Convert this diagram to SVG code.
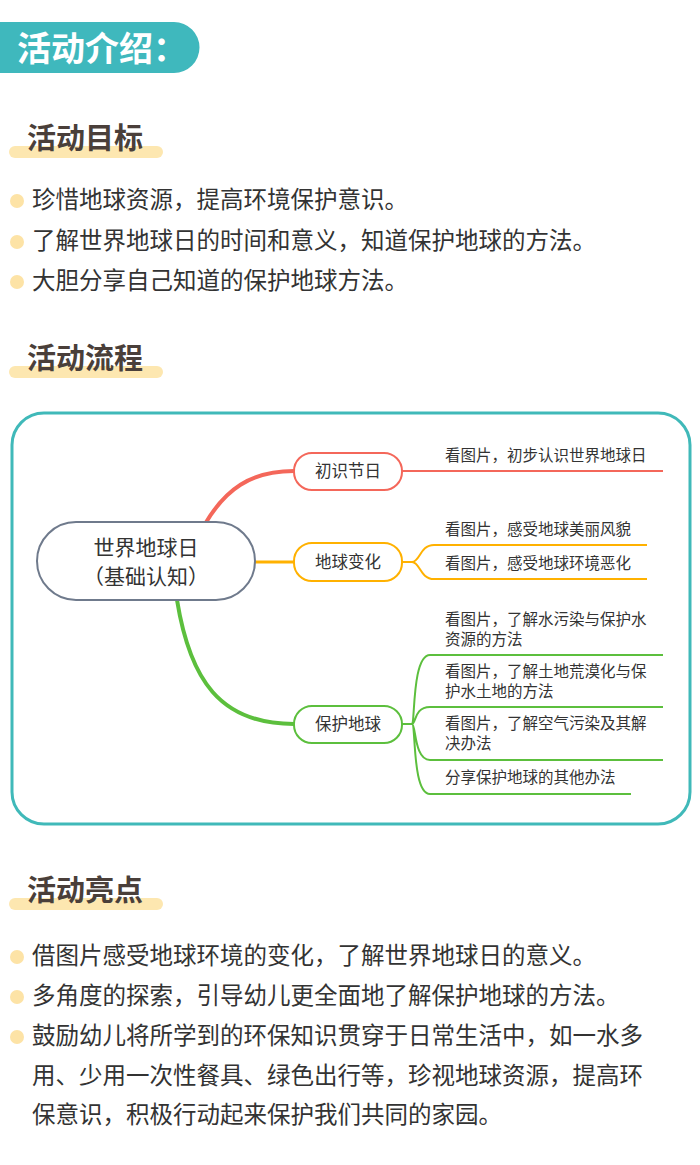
<svg xmlns="http://www.w3.org/2000/svg" width="700" height="1165" viewBox="0 0 700 1165">
<style>
text{font-family:"Noto Sans CJK SC","Noto Sans",sans-serif}
.h{font-size:29px;font-weight:bold;fill:#4a3f3a}
.bar{fill:#fde7b0}
.dot{fill:#fde3a6}
.b{font-size:23.5px;fill:#333}
.leaf{font-size:15.5px;fill:#333}
.nd{font-size:16.5px;fill:#333}
.n{fill:#fff;stroke-width:2}
</style>
<rect width="700" height="1165" fill="#fff"/>
<path d="M0 22H174A25.5 25.5 0 0 1 174 73H0Z" fill="#3fb8bd"/>
<text x="17" y="61" font-size="34" font-weight="bold" fill="#fff">活动介绍：</text>

<rect class="bar" x="9" y="146" width="154" height="12" rx="6"/>
<text class="h" x="27" y="149">活动目标</text>
<circle class="dot" cx="17" cy="201" r="7"/><text class="b" x="32" y="208">珍惜地球资源，提高环境保护意识。</text>
<circle class="dot" cx="17" cy="242" r="7"/><text class="b" x="32" y="249">了解世界地球日的时间和意义，知道保护地球的方法。</text>
<circle class="dot" cx="17" cy="282" r="7"/><text class="b" x="32" y="289">大胆分享自己知道的保护地球方法。</text>

<rect class="bar" x="9" y="366" width="154" height="12" rx="6"/>
<text class="h" x="27" y="369">活动流程</text>

<rect x="12" y="413" width="678" height="411" rx="32" fill="#fff" stroke="#40b9b9" stroke-width="3"/>

<g id="connectors" fill="none">
<path d="M205 524C225 490 250 471 294 471" stroke="#f4675a" stroke-width="4"/>
<path d="M402 471H663" stroke="#f4675a" stroke-width="2"/>
<path d="M255 562H294" stroke="#ffb100" stroke-width="3"/>
<path d="M402 562H412C420 562 420 545 434 545H647M412 562C420 562 420 579 434 579H647" stroke="#ffb100" stroke-width="2"/>
<path d="M177 600C190 680 220 724 294 724" stroke="#5cbf3d" stroke-width="4"/>
<path d="M402 724H412C415 724 412 655 430 655H663M412 724C416 724 414 707 430 707H663M412 724C416 724 414 760 430 760H663M412 724C416 724 412 794 430 794H631" stroke="#5cbf3d" stroke-width="2"/>
</g>

<g id="root"><rect class="n" x="37" y="522" width="218" height="78" rx="39" stroke="#6f7a8c"/>
<text x="146" y="555" font-size="21" fill="#333" text-anchor="middle">世界地球日</text>
<text x="146" y="584" font-size="21" fill="#333" text-anchor="middle">（基础认知）</text></g>
<g id="n1"><rect class="n" x="294" y="453" width="108" height="37" rx="18" stroke="#f4675a"/><text class="nd" x="348" y="477" text-anchor="middle">初识节日</text></g>
<g id="n2"><rect class="n" x="294" y="543" width="108" height="38" rx="18" stroke="#ffb100"/><text class="nd" x="348" y="568" text-anchor="middle">地球变化</text></g>
<g id="n3"><rect class="n" x="294" y="706" width="108" height="37" rx="18" stroke="#5cbf3d"/><text class="nd" x="348" y="730" text-anchor="middle">保护地球</text></g>

<g id="leaves">
<text class="leaf" x="445" y="461">看图片，初步认识世界地球日</text>
<text class="leaf" x="445" y="535">看图片，感受地球美丽风貌</text>
<text class="leaf" x="445" y="569">看图片，感受地球环境恶化</text>
<text class="leaf" x="445" y="625">看图片，了解水污染与保护水</text>
<text class="leaf" x="445" y="645">资源的方法</text>
<text class="leaf" x="445" y="677">看图片，了解土地荒漠化与保</text>
<text class="leaf" x="445" y="697">护水土地的方法</text>
<text class="leaf" x="445" y="729">看图片，了解空气污染及其解</text>
<text class="leaf" x="445" y="749">决办法</text>
<text class="leaf" x="445" y="783">分享保护地球的其他办法</text>
</g>

<rect class="bar" x="9" y="898" width="154" height="12" rx="6"/>
<text class="h" x="27" y="901">活动亮点</text>
<circle class="dot" cx="17" cy="957" r="7"/><text class="b" x="32" y="964">借图片感受地球环境的变化，了解世界地球日的意义。</text>
<circle class="dot" cx="17" cy="997" r="7"/><text class="b" x="32" y="1004">多角度的探索，引导幼儿更全面地了解保护地球的方法。</text>
<circle class="dot" cx="17" cy="1037" r="7"/><text class="b" x="32" y="1044">鼓励幼儿将所学到的环保知识贯穿于日常生活中，如一水多</text>
<text class="b" x="32" y="1084">用、少用一次性餐具、绿色出行等，珍视地球资源，提高环</text>
<text class="b" x="32" y="1123">保意识，积极行动起来保护我们共同的家园。</text>
</svg>
